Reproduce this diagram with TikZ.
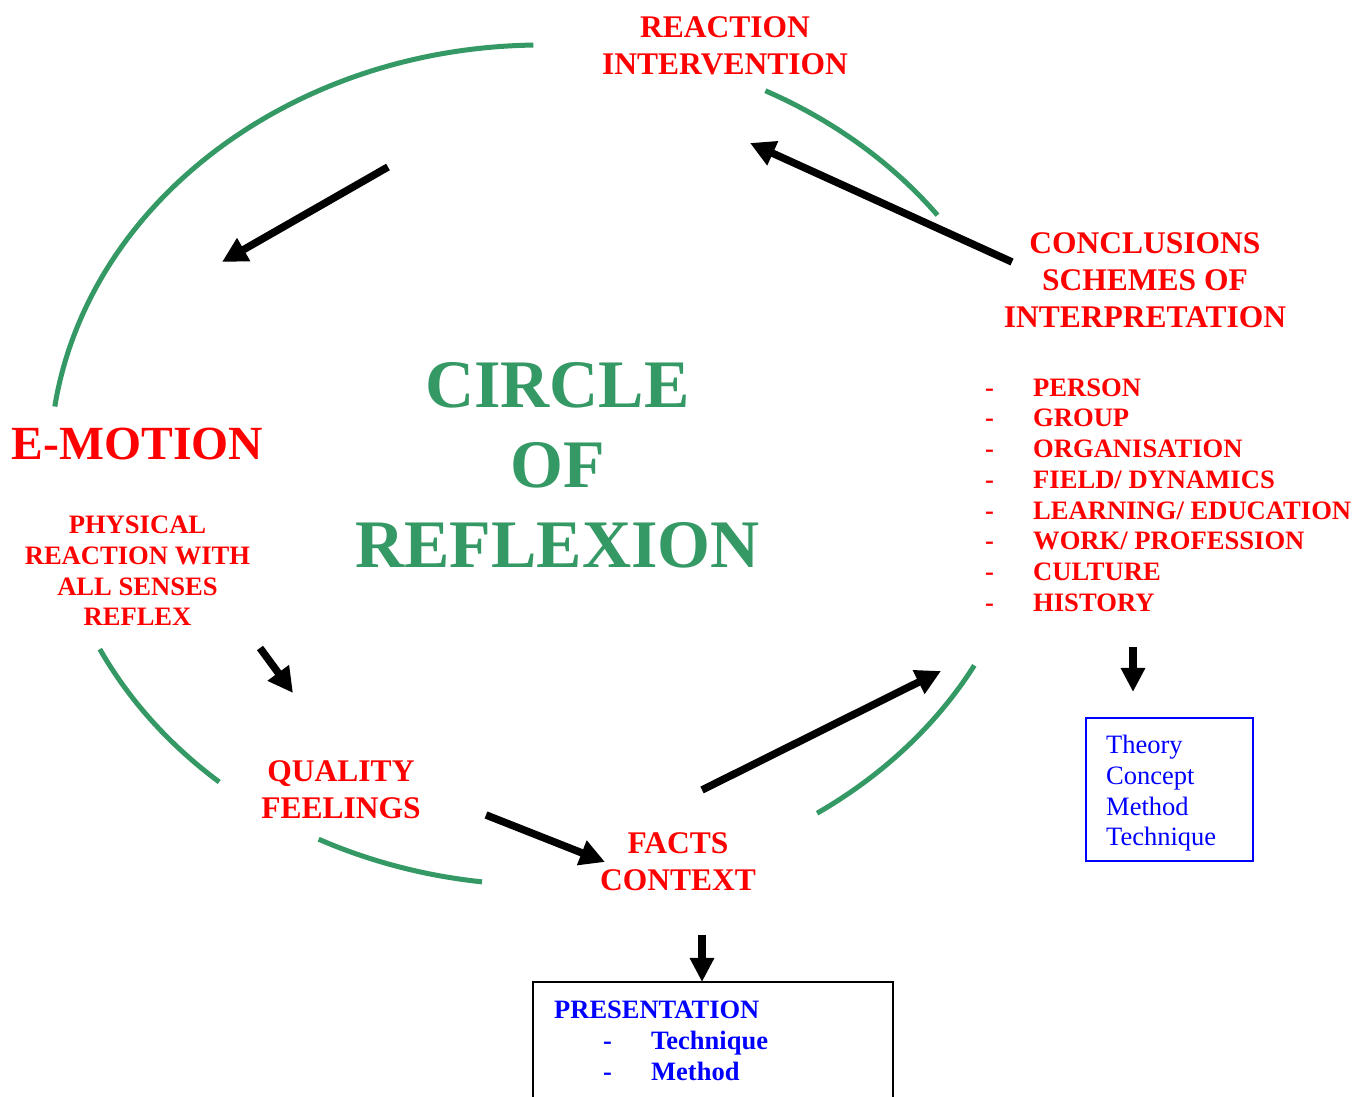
\documentclass[tikz,border=0pt]{standalone}
\usepackage{fontspec}
\setmainfont{Liberation Serif}
\usetikzlibrary{arrows.meta}
\definecolor{sgreen}{HTML}{359965}
\begin{document}
\begin{tikzpicture}[x=1pt,y=1pt,
  lbl/.style={inner sep=0pt, align=center, text=red, font=\bfseries\fontsize{31.5}{37}\selectfont},
  smalllbl/.style={inner sep=0pt, align=center, text=red, font=\bfseries\fontsize{26.6}{30.7}\selectfont},
  arr/.style={line width=7.5pt, -{Triangle[length=25pt,width=25pt]}},
  arcl/.style={sgreen, line width=5pt}]
\clip (0,0) rectangle (1355,1097);
\fill[white] (0,0) rectangle (1355,1097);

% green circle segments
\begin{scope}[shift={(542,632)}]
\draw[arcl] (91:492pt and 420pt) arc[start angle=91,end angle=172,x radius=492pt,y radius=420pt];
\draw[arcl] (206:492pt and 420pt) arc[start angle=206,end angle=229,x radius=492pt,y radius=420pt];
\draw[arcl] (243:492pt and 420pt) arc[start angle=243,end angle=263,x radius=492pt,y radius=420pt];
\draw[arcl] (304:492pt and 420pt) arc[start angle=304,end angle=331.5,x radius=492pt,y radius=420pt];
\draw[arcl] (36.5:492pt and 420pt) arc[start angle=36.5,end angle=63,x radius=492pt,y radius=420pt];
\end{scope}

% texts
\node[lbl] (react) at (725,1051.5) {REACTION\\INTERVENTION};
\node[lbl] (concl) at (1145,817) {CONCLUSIONS\\SCHEMES OF\\INTERPRETATION};
\node[inner sep=0pt, text=red, font=\bfseries\fontsize{47.6}{55}\selectfont] (emotion) at (137.5,653) {E-MOTION};
\node[smalllbl] (physical) at (137.5,526) {PHYSICAL\\REACTION WITH\\ALL SENSES\\REFLEX};
\node[inner sep=0pt, align=center, text=sgreen, font=\bfseries\fontsize{68}{80}\selectfont] (circle) at (557.5,632) {CIRCLE\\OF\\REFLEXION};
\node[lbl] (quality) at (341,307.5) {QUALITY\\FEELINGS};
\node[lbl] (facts) at (678,235) {FACTS\\CONTEXT};
\node[smalllbl, align=left, anchor=west] (list) at (985,602) {%
\makebox[48pt][l]{-}PERSON\\
\makebox[48pt][l]{-}GROUP\\
\makebox[48pt][l]{-}ORGANISATION\\
\makebox[48pt][l]{-}FIELD/ DYNAMICS\\
\makebox[48pt][l]{-}LEARNING/ EDUCATION\\
\makebox[48pt][l]{-}WORK/ PROFESSION\\
\makebox[48pt][l]{-}CULTURE\\
\makebox[48pt][l]{-}HISTORY};

% boxes
\node[draw=blue, line width=2pt, minimum width=167pt, minimum height=143pt, inner sep=0pt] (theory) at (1169.5,307.5) {};
\node[anchor=west, inner sep=0pt, text=blue, font=\fontsize{26.5}{30.7}\selectfont, align=left] (theorytext) at (1106,303.5)
      {Theory\\Concept\\Method\\Technique};
\node[draw=black, line width=2pt, minimum width=360pt, minimum height=140pt, inner sep=0pt] (presbox) at (713,45) {};
\node[anchor=west, inner sep=0pt, align=left, text=blue, font=\bfseries\fontsize{26.5}{31}\selectfont] (prestext) at (554,56)
      {PRESENTATION\\\hspace*{49pt}\makebox[48pt][l]{-}Technique\\\hspace*{49pt}\makebox[48pt][l]{-}Method};

% arrow end points
\coordinate (a1s) at (388,930); \coordinate (a1e) at (222,835);
\coordinate (a2s) at (1012,835); \coordinate (a2e) at (750,954);
\coordinate (a3s) at (260,449); \coordinate (a3e) at (293,404);
\coordinate (a4s) at (486,282); \coordinate (a4e) at (605,235);
\coordinate (a5s) at (702,307); \coordinate (a5e) at (941,426);
\coordinate (a6s) at (1133,450); \coordinate (a6e) at (1133,405);
\coordinate (a7s) at (702,162); \coordinate (a7e) at (702,115);

\draw[arr] (a1s) -- (a1e);
\draw[arr] (a2s) -- (a2e);
\draw[arr] (a3s) -- (a3e);
\draw[arr] (a4s) -- (a4e);
\draw[arr] (a5s) -- (a5e);
\draw[arr, -{Triangle[length=24pt,width=23pt]}] (a6s) -- (a6e);
\draw[arr, -{Triangle[length=24pt,width=23pt]}] (a7s) -- (a7e);
\end{tikzpicture}
\end{document}
